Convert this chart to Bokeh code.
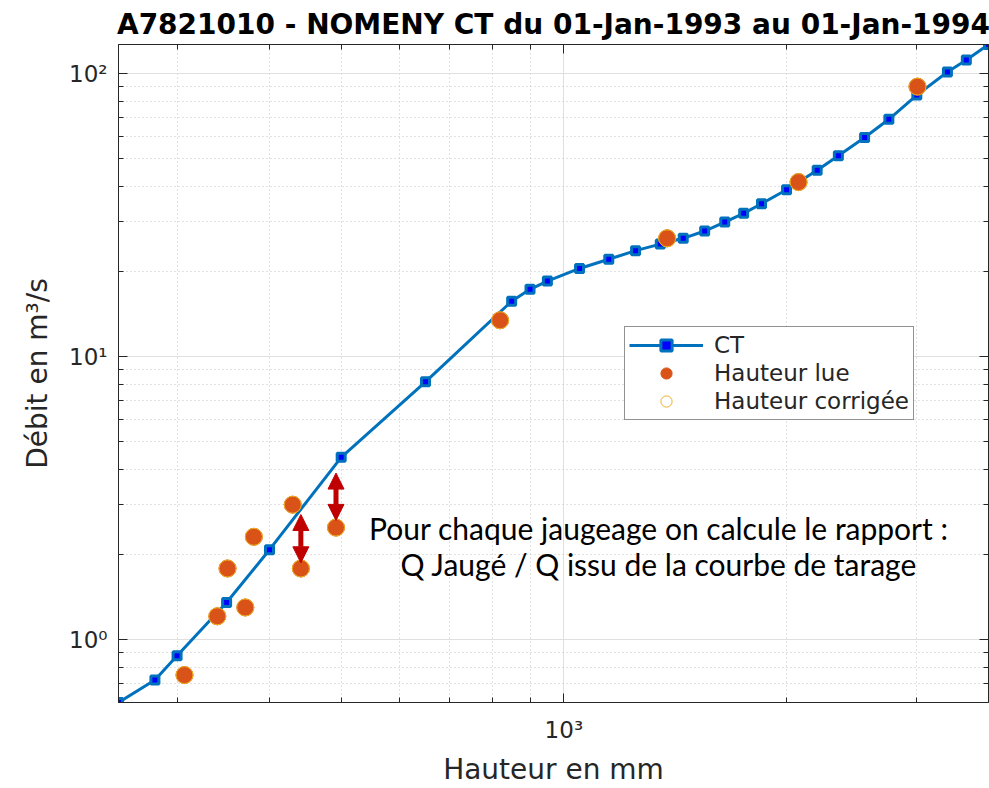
from bokeh.plotting import figure
from bokeh.models import (Range1d, FixedTicker, LogAxis, CustomJSTickFormatter, Legend,
                          LegendItem, Arrow, NormalHead, Label, ColumnDataSource)
from bokeh.embed import file_html
from bokeh.resources import INLINE

# ---- data ----
ct_h = [250, 280, 300, 350, 400, 500, 650, 850, 900, 950, 1050, 1150, 1250, 1350,
        1450, 1550, 1650, 1750, 1850, 2000, 2200, 2350, 2550, 2750, 3000, 3300, 3500, 3750]
ct_q = [0.60, 0.72, 0.877, 1.354, 2.08, 4.41, 8.15, 15.7, 17.3, 18.5, 20.5, 22.1, 23.7, 25.0,
        26.2, 27.8, 29.9, 32.1, 34.7, 38.9, 45.6, 51.3, 59.5, 69.0, 84.0, 101.4, 111.7, 126.8]

jaug_h = [307, 340, 351, 371, 381, 430, 441, 492, 820, 1379, 2076, 3006]
jaug_q = [0.75, 1.21, 1.785, 1.30, 2.31, 3.00, 1.785, 2.49, 13.45, 26.2, 41.4, 90.0]

arrow_h = [441, 492]
arrow_q_low = [1.87, 2.64]
arrow_q_high = [2.77, 3.88]

x_major = [1000]
x_minor = [300, 400, 500, 600, 700, 800, 900, 2000, 3000]
y_major = [1, 10, 100]
y_minor = [0.7, 0.8, 0.9, 2, 3, 4, 5, 6, 7, 8, 9, 20, 30, 40, 50, 60, 70, 80, 90]

title_text = "A7821010 - NOMENY CT du 01-Jan-1993 au 01-Jan-1994"
note_lines = ["Pour chaque jaugeage on calcule le rapport :",
              "Q Jaugé / Q issu de la courbe de tarage"]
note_x = 1344
note_y = [2.485, 1.858]

AX = "#262626"
FONT = "DejaVu Sans"

p = figure(width=989, height=788, x_axis_type="log", y_axis_type="log",
           x_range=Range1d(min(ct_h), max(ct_h)), y_range=Range1d(min(ct_q), max(ct_q)),
           output_backend="svg", toolbar_location=None,
           min_border_left=118, min_border_right=1, min_border_top=44, min_border_bottom=83)
p.background_fill_color = "white"
p.border_fill_color = "white"
p.outline_line_color = AX
p.outline_line_width = 1

p.title.text = title_text
p.title.align = "center"
p.title.text_font = FONT
p.title.text_font_size = "28px"
p.title.text_font_style = "bold"
p.title.text_color = "black"
p.title.standoff = 8

xt = FixedTicker(ticks=x_major, minor_ticks=x_minor)
yt = FixedTicker(ticks=y_major, minor_ticks=y_minor)

sup_code = """
const e = Math.round(Math.log10(tick));
const s = {'-1':'\u207b\u00b9','0':'\u2070','1':'\u00b9','2':'\u00b2','3':'\u00b3'};
return '10' + s[String(e)];
"""

def style_axis(ax, ticker, labels=True):
    ax.ticker = ticker
    ax.axis_line_color = AX
    ax.major_tick_line_color = AX
    ax.minor_tick_line_color = AX
    ax.major_tick_in = 9
    ax.major_tick_out = 0
    ax.minor_tick_in = 5
    ax.minor_tick_out = 0
    if labels:
        ax.formatter = CustomJSTickFormatter(code=sup_code)
        ax.major_label_text_font = FONT
        ax.major_label_text_font_size = "23px"
        ax.major_label_text_color = AX
        ax.axis_label_text_font = FONT
        ax.axis_label_text_font_size = "28px"
        ax.axis_label_text_font_style = "normal"
        ax.axis_label_text_color = AX
    else:
        ax.formatter = CustomJSTickFormatter(code="return ''")
        ax.major_label_text_font_size = "0px"
        ax.major_label_standoff = 0

style_axis(p.xaxis[0], xt)
style_axis(p.yaxis[0], yt)
p.xaxis[0].axis_label = "Hauteur en mm"
p.yaxis[0].axis_label = "Débit en m³/s"
p.xaxis[0].major_label_standoff = 14
p.xaxis[0].axis_label_standoff = 7
p.yaxis[0].major_label_standoff = 11
p.yaxis[0].axis_label_standoff = 12

top = LogAxis()
style_axis(top, xt, labels=False)
p.add_layout(top, "above")
right = LogAxis()
style_axis(right, yt, labels=False)
p.add_layout(right, "right")

for g, t in ((p.xgrid[0], xt), (p.ygrid[0], yt)):
    g.ticker = t
    g.grid_line_color = "#dfdfdf"
    g.grid_line_width = 1
    g.minor_grid_line_color = "#c4c4c4"
    g.minor_grid_line_dash = "1 3"
    g.minor_grid_line_width = 1

ct_src = ColumnDataSource(dict(h=ct_h, q=ct_q))
j_src = ColumnDataSource(dict(h=jaug_h, q=jaug_q))

ct_line = p.line("h", "q", source=ct_src, line_color="#0072BD", line_width=3)
ct_mark = p.scatter("h", "q", source=ct_src, marker="square", size=8,
                    fill_color="#0000FF", line_color="#0072BD", line_width=3)
lue = p.scatter("h", "q", source=j_src, marker="circle", size=17,
                fill_color="#D95319", line_color="#D95319", line_width=1)
corr = p.scatter("h", "q", source=j_src, marker="circle", size=17,
                 fill_color=None, line_color="#EDB120", line_width=1)

for h, lo, hi in zip(arrow_h, arrow_q_low, arrow_q_high):
    p.add_layout(Arrow(x_start=h, y_start=lo, x_end=h, y_end=hi,
                       line_color="#C00000", line_width=5,
                       start=NormalHead(size=16, fill_color="#C00000", line_color="#C00000"),
                       end=NormalHead(size=16, fill_color="#C00000", line_color="#C00000")))

for txt, yy in zip(note_lines, note_y):
    p.add_layout(Label(x=note_x, y=yy, text=txt, text_align="center", text_baseline="middle",
                       text_font="Lato", text_font_size="30px", text_color="black"))

legend = Legend(items=[LegendItem(label="CT", renderers=[ct_line, ct_mark]),
                       LegendItem(label="Hauteur lue", renderers=[lue]),
                       LegendItem(label="Hauteur corrigée", renderers=[corr])],
                location=(506, 282))
legend.label_text_font = FONT
legend.label_text_font_size = "23px"
legend.label_text_color = AX
legend.border_line_color = AX
legend.border_line_width = 1
legend.background_fill_alpha = 1
legend.glyph_width = 74
legend.glyph_height = 28
legend.label_height = 22
legend.label_standoff = 11
legend.spacing = 0
legend.padding = 4
legend.margin = 0
p.add_layout(legend, "center")

open("out.html", "w").write(file_html(p, INLINE))
